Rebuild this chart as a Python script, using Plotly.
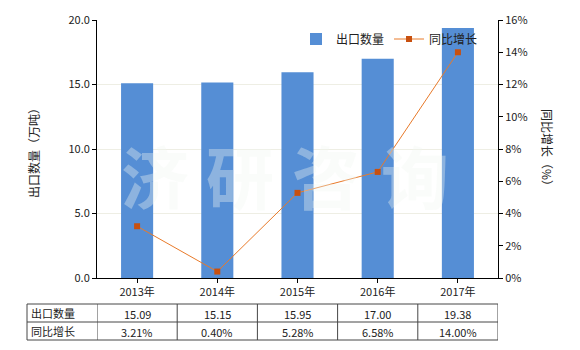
import plotly.graph_objects as go

years = ["2013年", "2014年", "2015年", "2016年", "2017年"]
export_qty = [15.09, 15.15, 15.95, 17.00, 19.38]
yoy_growth = [3.21, 0.40, 5.28, 6.58, 14.00]
qty_labels = ["15.09", "15.15", "15.95", "17.00", "19.38"]
growth_labels = ["3.21%", "0.40%", "5.28%", "6.58%", "14.00%"]
row_names = ["出口数量", "同比增长"]
y1_ticks = [0, 5, 10, 15, 20]
y2_ticks = [0, 2, 4, 6, 8, 10, 12, 14, 16]
watermark_chars = ["济", "研", "咨", "询"]

FONT = "Noto Sans CJK SC"
BAR_COLOR = "rgb(85,142,213)"
LINE_COLOR = "rgb(232,122,42)"
MARK_COLOR = "rgb(200,80,15)"

fig = go.Figure()
fig.add_trace(go.Bar(x=list(range(len(years))), y=export_qty, name=row_names[0],
                     marker=dict(color=BAR_COLOR, line=dict(width=0)), width=0.4))
fig.add_trace(go.Scatter(x=list(range(len(years))), y=yoy_growth, name=row_names[1], yaxis="y2",
                         mode="lines+markers",
                         line=dict(color=LINE_COLOR, width=1),
                         marker=dict(symbol="square", size=6, color=MARK_COLOR)))

W, H = 580, 350
L, R, T, B = 97, 82, 20, 72
pw, ph = W - L - R, H - T - B

def py(pix):
    return (H - B - pix) / ph

def px(pix):
    return (pix - L) / pw

shapes = []
annotations = []

# table lines
tbl_top, tbl_mid, tbl_bot = 304, 322, 340
tbl_left = 27
lc = "rgb(70,70,70)"
for yy in (tbl_top, tbl_mid, tbl_bot):
    shapes.append(dict(type="line", xref="paper", yref="paper", x0=px(tbl_left), x1=1.0,
                       y0=py(yy), y1=py(yy), line=dict(color=lc, width=1)))
shapes.append(dict(type="line", xref="paper", yref="paper", x0=px(tbl_left), x1=px(tbl_left),
                   y0=py(tbl_top), y1=py(tbl_bot), line=dict(color=lc, width=1)))
for i in range(len(years) + 1):
    shapes.append(dict(type="line", xref="x", yref="paper", x0=i - 0.5, x1=i - 0.5,
                       y0=py(tbl_top), y1=py(tbl_bot), line=dict(color=lc, width=1)))

for r, name in enumerate(row_names):
    yc = py((tbl_top + tbl_mid) / 2 if r == 0 else (tbl_mid + tbl_bot) / 2)
    annotations.append(dict(text=name, xref="paper", yref="paper", x=px(tbl_left + 2), y=yc,
                            xanchor="left", yanchor="middle", showarrow=False,
                            font=dict(family=FONT, size=11, color="#222")))
    labels = qty_labels if r == 0 else growth_labels
    for i, t in enumerate(labels):
        annotations.append(dict(text=t, xref="x", yref="paper", x=i, y=yc - 0.004,
                                xanchor="center", yanchor="middle", showarrow=False,
                                font=dict(family=FONT, size=11, color="#222")))

# axis titles
annotations.append(dict(text="出口数量（万吨）", xref="paper", yref="paper", x=px(33), y=py(150),
                        textangle=-90, showarrow=False, xanchor="center", yanchor="middle",
                        font=dict(family=FONT, size=12, color="#222")))
annotations.append(dict(text="同比增长（%）", xref="paper", yref="paper", x=px(548), y=py(150),
                        textangle=90, showarrow=False, xanchor="center", yanchor="middle",
                        font=dict(family=FONT, size=12, color="#222")))

# watermark
wm_centers = [155, 240, 326, 415]
for ch, cx in zip(watermark_chars, wm_centers):
    annotations.append(dict(text="<b>" + ch + "</b>", xref="paper", yref="paper", x=px(cx), y=py(174),
                            showarrow=False, xanchor="center", yanchor="middle",
                            font=dict(family=FONT, size=68, color="rgba(242,246,242,0.36)")))

fig.update_layout(
    width=W, height=H,
    margin=dict(l=L, r=R, t=T, b=B, pad=0),
    paper_bgcolor="white", plot_bgcolor="white",
    font=dict(family=FONT, size=11, color="#222"),
    showlegend=True,
    legend=dict(orientation="h", x=px(296), y=py(39), xanchor="left", yanchor="middle",
                bgcolor="rgba(0,0,0,0)", font=dict(family=FONT, size=12, color="#222"),
                itemwidth=30, tracegroupgap=0),
    xaxis=dict(range=[-0.5, len(years) - 0.5], tickmode="array",
               tickvals=list(range(len(years))), ticktext=years,
               showline=True, linecolor="black", linewidth=1,
               ticks="outside", ticklen=4, tickcolor="black", showgrid=False, zeroline=False,
               tickfont=dict(family=FONT, size=11, color="#222")),
    yaxis=dict(range=[0, 20], tickmode="array", tickvals=y1_ticks,
               ticktext=[f"{v:.1f}" for v in y1_ticks],
               showline=True, linecolor="black", linewidth=1,
               ticks="outside", ticklen=4, tickcolor="black",
               showgrid=True, gridcolor="rgb(238,238,228)", gridwidth=1, zeroline=False,
               tickfont=dict(family=FONT, size=11, color="#222")),
    yaxis2=dict(range=[0, 16], tickmode="array", tickvals=y2_ticks,
                ticktext=[f"{v}%" for v in y2_ticks],
                overlaying="y", side="right",
                showline=True, linecolor="black", linewidth=1,
                ticks="outside", ticklen=4, tickcolor="black",
                showgrid=False, zeroline=False,
                tickfont=dict(family=FONT, size=11, color="#222")),
    shapes=shapes,
    annotations=annotations,
)

fig.write_html("out.html")
